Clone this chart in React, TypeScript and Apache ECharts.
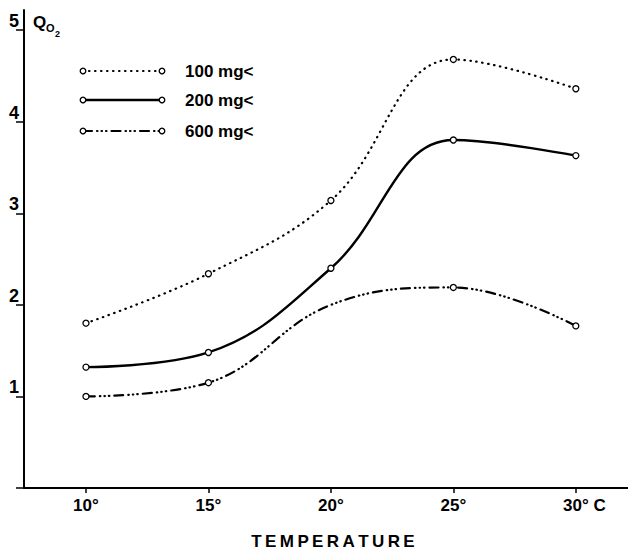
import React, { useEffect, useRef } from "react";
import * as echarts from "echarts";

const temps = [10, 15, 20, 25, 30];
const xTickLabels = ["10°", "15°", "20°", "25°", "30° C"];
const yTickValues = [1, 2, 3, 4, 5];
const yTickMarks = [0, 1, 2, 3, 4, 5];
const seriesNames = ["100 mg<", "200 mg<", "600 mg<"];
const mg100 = [1.8, 2.34, 3.14, 4.68, 4.36];
const mg200 = [1.32, 1.48, 2.4, 3.8, 3.63];
const mg600 = [1.0, 1.15, 2.0, 2.19, 1.77];
const mg600Marked = [true, true, false, true, true];

const FONT = "Liberation Sans";
const dotted = [0.5, 5.5];
const dashDot = [9, 5, 0.5, 4, 0.5, 4, 0.5, 5];

export default function App() {
  const ref = useRef<HTMLDivElement>(null);
  useEffect(() => {
    if (!ref.current) return;
    const chart = echarts.init(ref.current, null, { renderer: "svg" });
    const styles = [
      { type: dotted, width: 2.2 },
      { type: "solid", width: 2.4 },
      { type: dashDot, width: 2.2 },
    ];
    const values = [mg100, mg200, mg600];
    const series = values.map((vals, si) => ({
      name: seriesNames[si],
      type: "line",
      smooth: 0.4,
      silent: true,
      symbol: "circle",
      symbolSize: 6,
      itemStyle: { color: "#fff", borderColor: "#000", borderWidth: 1.3 },
      lineStyle: {
        color: "#000",
        width: styles[si].width,
        type: styles[si].type as any,
        cap: "round",
      },
      data: temps.map((t, i) =>
        si === 2 && !mg600Marked[i]
          ? { value: [t, vals[i]], symbol: "none" }
          : { value: [t, vals[i]] }
      ),
    }));

    const legendY = [71, 100, 131];
    const legendGraphics: any[] = [];
    seriesNames.forEach((name, i) => {
      legendGraphics.push({
        type: "line",
        shape: { x1: 83, y1: legendY[i], x2: 162, y2: legendY[i] },
        style: {
          stroke: "#000",
          lineWidth: styles[i].width,
          lineDash: Array.isArray(styles[i].type) ? styles[i].type : null,
          lineCap: "round",
        },
      });
      [83, 162].forEach((cx) =>
        legendGraphics.push({
          type: "circle",
          shape: { cx, cy: legendY[i], r: 2.8 },
          style: { fill: "#fff", stroke: "#000", lineWidth: 1.3 },
          z: 10,
        })
      );
      legendGraphics.push({
        type: "text",
        x: 185,
        y: legendY[i],
        style: {
          text: name,
          fill: "#000",
          font: `bold 17px "${FONT}"`,
          verticalAlign: "middle",
          align: "left",
        },
      });
    });

    const option: any = {
      animation: false,
      grid: { left: 24, right: 0, top: 10, bottom: 64, containLabel: false },
      xAxis: {
        type: "value",
        min: 7.47,
        max: 32.13,
        axisLine: { show: true, lineStyle: { color: "#000", width: 2 } },
        axisTick: {
          show: true,
          length: 5,
          customValues: temps,
          lineStyle: { color: "#000", width: 1.5 },
        },
        axisLabel: {
          customValues: temps,
          margin: 9,
          color: "#000",
          fontSize: 17,
          fontWeight: "bold",
          fontFamily: FONT,
          formatter: (v: number) => {
            const i = temps.indexOf(v);
            const lab = i >= 0 ? xTickLabels[i] : "";
            if (lab.endsWith(" C")) return "{h| C}{n|" + lab + "}";
            return lab;
          },
          rich: {
            h: { color: "rgba(0,0,0,0)", fontSize: 17, fontWeight: "bold", fontFamily: FONT },
            n: { color: "#000", fontSize: 17, fontWeight: "bold", fontFamily: FONT },
          },
        },
        splitLine: { show: false },
      },
      yAxis: {
        type: "value",
        min: 0,
        max: 5.22,
        axisLine: { show: true, lineStyle: { color: "#000", width: 2 } },
        axisTick: {
          show: true,
          length: 8,
          customValues: yTickMarks,
          lineStyle: { color: "#000", width: 1.5 },
        },
        axisLabel: {
          customValues: yTickValues,
          margin: 5,
          color: "#000",
          fontSize: 18,
          fontWeight: "bold",
          fontFamily: FONT,
          verticalAlign: "bottom",
        },
        splitLine: { show: false },
      },
      series,
      graphic: [
        ...legendGraphics,
        {
          type: "text",
          x: 33,
          y: 14,
          style: { text: "Q", fill: "#000", font: `bold 17px "${FONT}"` },
        },
        {
          type: "text",
          x: 46,
          y: 22,
          style: { text: "O", fill: "#000", font: `bold 11px "${FONT}"` },
        },
        {
          type: "text",
          x: 55,
          y: 29,
          style: { text: "2", fill: "#000", font: `bold 9px "${FONT}"` },
        },
        {
          type: "text",
          x: 333,
          y: 541,
          style: {
            text: "TEMPERATURE".split("").join("\u2009"),
            fill: "#000",
            font: `bold 17px "${FONT}"`,
            align: "center",
            verticalAlign: "middle",
          },
        },
      ],
    };
    chart.setOption(option);
    return () => chart.dispose();
  }, []);
  return (
    <div
      ref={ref}
      style={{ position: "fixed", left: 0, top: 0, width: 628, height: 552, background: "#fff" }}
    />
  );
}
